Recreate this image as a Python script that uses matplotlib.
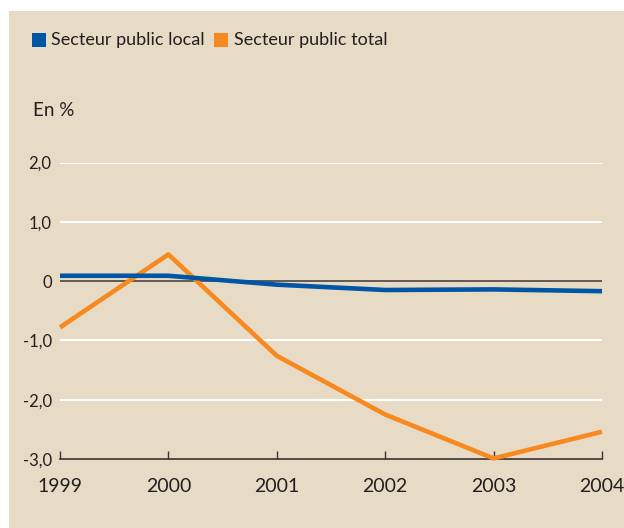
import matplotlib
matplotlib.use("Agg")
import matplotlib.pyplot as plt
from matplotlib.patches import Rectangle

plt.rcParams['font.family'] = ['Lato', 'DejaVu Sans']

years = [1999, 2000, 2001, 2002, 2003, 2004]
local = [0.09, 0.09, -0.06, -0.15, -0.14, -0.17]
total = [-0.78, 0.45, -1.26, -2.25, -2.99, -2.54]
yticks = [-3.0, -2.0, -1.0, 0.0, 1.0, 2.0]
ylabels = ['-3,0', '-2,0', '-1,0', '0', '1,0', '2,0']

bg = '#e8dbc5'
blue = '#0055a5'
orange = '#f7891f'
txt = '#231f20'

fig = plt.figure(figsize=(6.24, 5.28), dpi=100, facecolor='white')
fig.patches.append(Rectangle((9 / 624, 0), 1, 1 - 11 / 528, transform=fig.transFigure,
                             facecolor=bg, edgecolor='none', zorder=-10))

ax = fig.add_axes([60 / 624, 69 / 528, 542 / 624, 296.5 / 528])
ax.set_facecolor('none')
ax.set_xlim(1999, 2004)
ax.set_ylim(-3.0, 2.0)

for y in yticks[1:]:
    if y == 0:
        ax.axhline(0, color='#4a4340', lw=1.2, zorder=2)
    else:
        ax.axhline(y, color='white', lw=1.5, zorder=1)

ax.plot(years, local, color=blue, lw=3.3, zorder=4, clip_on=False, solid_capstyle='butt')
ax.plot(years, total, color=orange, lw=3.3, zorder=3, clip_on=False, solid_capstyle='butt')

for s in ['top', 'right', 'left']:
    ax.spines[s].set_visible(False)
ax.spines['bottom'].set_color('#3a3432')
ax.spines['bottom'].set_linewidth(1.2)

ax.set_xticks(years)
ax.set_xticklabels([str(y) for y in years], fontsize=14, color=txt)
ax.tick_params(axis='x', direction='in', length=6, width=1, color='#3a3432', pad=14)
ax.set_yticks(yticks)
ax.set_yticklabels(ylabels, fontsize=12, color=txt)
ax.tick_params(axis='y', length=0, pad=6)

# legend
fig.patches.append(Rectangle((32 / 624, 1 - 47 / 528), 14 / 624, 14 / 528, transform=fig.transFigure,
                             facecolor=blue, edgecolor='none', zorder=1))
fig.text(51 / 624, 1 - 40 / 528, 'Secteur public local', fontsize=13, va='center', color=txt)
fig.patches.append(Rectangle((214 / 624, 1 - 47 / 528), 14 / 624, 14 / 528, transform=fig.transFigure,
                             facecolor=orange, edgecolor='none', zorder=1))
fig.text(234 / 624, 1 - 40 / 528, 'Secteur public total', fontsize=13, va='center', color=txt)

fig.text(33 / 624, 1 - 110 / 528, 'En %', fontsize=13.5, va='center', color=txt)

fig.savefig('out.png', dpi=100, facecolor='white')
